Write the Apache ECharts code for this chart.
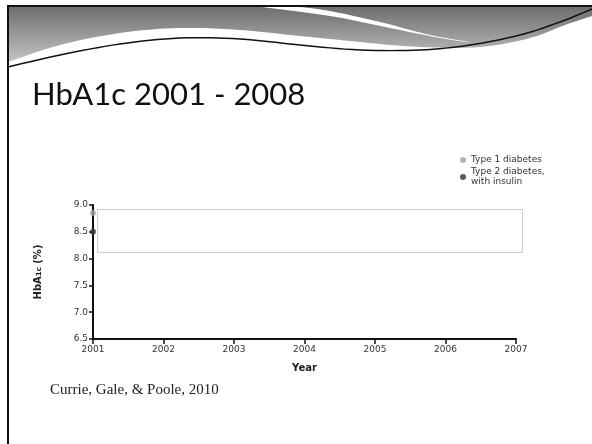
<!DOCTYPE html>
<html>
<head>
<meta charset="utf-8">
<script src="https://cdn.jsdelivr.net/npm/echarts@6/dist/echarts.min.js"></script>
<style>
  html, body { margin: 0; padding: 0; background: #fff; }
  #chart { width: 592px; height: 444px; }
</style>
</head>
<body>
<div id="chart"></div>
<script>
// 数据
const years = [2001]
const type1Values = [8.85] // Type 1 diabetes
const type2Values = [8.5]  // Type 2 diabetes, with insulin
const seriesNames = ['Type 1 diabetes', 'Type 2 diabetes,\nwith insulin']
const xRange = [2001, 2007]
const yRange = [6.5, 9.0]

const chart = echarts.init(document.getElementById('chart'))

// 装饰曲线：把几个控制点加密成平滑的折线（只用于顶部装饰）
function smoothPts(pts, steps) {
  const out = []
  for (let i = 0; i < pts.length - 1; i++) {
    const p0 = pts[Math.max(i - 1, 0)], p1 = pts[i], p2 = pts[i + 1], p3 = pts[Math.min(i + 2, pts.length - 1)]
    for (let s = 0; s < steps; s++) {
      const t = s / steps, t2 = t * t, t3 = t2 * t
      out.push([0, 1].map(k => 0.5 * (2 * p1[k] + (-p0[k] + p2[k]) * t +
        (2 * p0[k] - 5 * p1[k] + 4 * p2[k] - p3[k]) * t2 + (-p0[k] + 3 * p1[k] - 3 * p2[k] + p3[k]) * t3)))
    }
  }
  out.push(pts[pts.length - 1])
  return out
}

// 顶部的灰色弧形装饰
const headerBottom = smoothPts([[8, 62], [60, 45], [120, 33], [180, 28], [240, 30], [300, 36], [360, 42], [420, 47], [480, 47], [530, 38], [565, 25], [592, 16]], 8)
const blackCurve = smoothPts([[8, 67], [60, 55], [120, 44], [180, 38], [240, 39], [300, 45], [360, 50], [420, 50], [470, 45], [520, 35], [560, 22], [592, 9]], 8)
const whiteSwoosh = smoothPts([[262, 7], [330, 16], [390, 28], [440, 38], [475, 43]], 6)
  .concat(smoothPts([[475, 43], [430, 35], [380, 22], [330, 11], [300, 7]], 6))

const option = {
  animation: false,
  backgroundColor: '#fff',
  textStyle: { fontFamily: 'DejaVu Sans' },
  legend: {
    orient: 'vertical',
    left: 455,
    top: 150,
    itemWidth: 6,
    itemHeight: 6,
    itemGap: 2,
    icon: 'circle',
    textStyle: { fontSize: 9, color: '#333', lineHeight: 10, fontFamily: 'DejaVu Sans' },
    data: seriesNames
  },
  grid: { left: 93, right: 76, top: 205, bottom: 105, containLabel: false },
  xAxis: {
    type: 'value',
    min: xRange[0],
    max: xRange[1],
    interval: 1,
    name: 'Year',
    nameLocation: 'middle',
    nameGap: 24,
    nameTextStyle: { fontSize: 10, fontWeight: 'bold', color: '#222' },
    splitLine: { show: false },
    axisLine: { lineStyle: { color: '#111', width: 2 } },
    axisTick: { length: 5, lineStyle: { color: '#111', width: 1.5 } },
    axisLabel: { fontSize: 9, color: '#333', margin: 6, formatter: v => String(v) }
  },
  yAxis: {
    type: 'value',
    min: yRange[0],
    max: yRange[1],
    interval: 0.5,
    name: '{a|HbA}{s|1c}{a| (%)}',
    nameLocation: 'middle',
    nameGap: 50,
    nameRotate: 90,
    nameTextStyle: {
      rich: {
        a: { fontSize: 10, fontWeight: 'bold', color: '#222' },
        s: { fontSize: 7, fontWeight: 'bold', color: '#222', verticalAlign: 'bottom' }
      }
    },
    splitLine: { show: false },
    axisLine: { show: true, lineStyle: { color: '#111', width: 2 } },
    axisTick: { show: true, length: 4, lineStyle: { color: '#111', width: 1.5 } },
    axisLabel: { fontSize: 9, color: '#333', margin: 5, formatter: v => v.toFixed(1) }
  },
  series: [
    {
      name: seriesNames[0],
      type: 'scatter',
      symbolSize: 6,
      itemStyle: { color: '#a0a0a0' },
      data: years.map((y, i) => [y, type1Values[i]])
    },
    {
      name: seriesNames[1],
      type: 'scatter',
      symbolSize: 6,
      itemStyle: { color: '#333' },
      data: years.map((y, i) => [y, type2Values[i]])
    }
  ],
  graphic: [
    {
      type: 'polygon',
      shape: { points: [[8, 7], [592, 7]].concat(headerBottom.slice().reverse()) },
      style: {
        fill: new echarts.graphic.LinearGradient(0, 0, 0, 1, [
          { offset: 0, color: '#6e6e6e' },
          { offset: 1, color: '#c4c4c4' }
        ])
      }
    },
    {
      type: 'polygon',
      shape: { points: whiteSwoosh },
      style: { fill: '#fff' }
    },
    {
      type: 'polyline',
      shape: { points: blackCurve },
      style: { stroke: '#111', lineWidth: 1.5, fill: null }
    },
    { type: 'rect', shape: { x: 7, y: 5, width: 585, height: 2 }, style: { fill: '#111' } },
    { type: 'rect', shape: { x: 7, y: 5, width: 2, height: 439 }, style: { fill: '#111' } },
    {
      type: 'text',
      left: 32,
      top: 79,
      style: { text: 'HbA1c 2001 - 2008', fontSize: 31, fontFamily: 'Lato', fill: '#111' }
    },
    {
      type: 'rect',
      shape: { x: 97.5, y: 209.5, width: 425, height: 43 },
      style: { fill: null, stroke: '#cfcfcf', lineWidth: 1 }
    },
    {
      type: 'text',
      left: 50,
      top: 383,
      style: { text: 'Currie, Gale, & Poole, 2010', fontSize: 15, fontFamily: 'Liberation Serif', fill: '#222' }
    }
  ]
}

chart.setOption(option)
</script>
</body>
</html>
